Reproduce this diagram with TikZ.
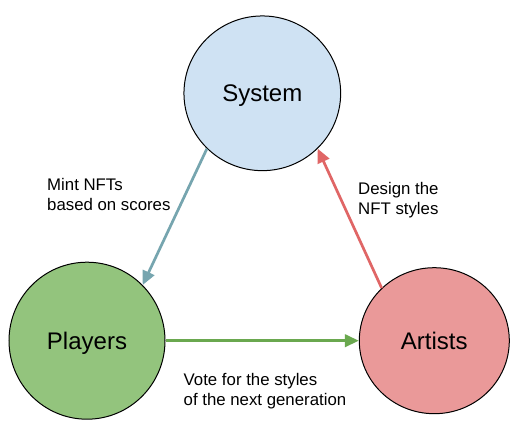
\documentclass[tikz,border=0pt]{standalone}
\usepackage{fontspec}
\setmainfont{Liberation Sans}
\usetikzlibrary{arrows.meta,shapes.geometric}
\definecolor{sysfill}{HTML}{CFE2F3}
\definecolor{plafill}{HTML}{93C47D}
\definecolor{artfill}{HTML}{EA9999}
\definecolor{bluearr}{HTML}{76A5AF}
\definecolor{redarr}{HTML}{E06666}
\definecolor{greenarr}{HTML}{6AA84F}
\tikzset{
  actor/.style={ellipse, draw=black, line width=1bp, inner sep=0pt,
    font=\fontsize{24bp}{28bp}\selectfont, text height=17.2bp, text depth=0pt},
  flow/.style={line width=2.7bp, -{Triangle[length=14bp,width=12.5bp]}},
  lbl/.style={anchor=base west, inner sep=0pt, font=\fontsize{16.8bp}{20bp}\selectfont}
}
\begin{document}
\begin{tikzpicture}[x=1bp,y=-1bp]
\fill[white] (0,0) rectangle (528,435);
\useasboundingbox (0,0) rectangle (528,435);
\node[actor, fill=sysfill, minimum width=156.7bp, minimum height=154.7bp] (sys) at (262.3,93.3) {System};
\node[actor, fill=plafill, minimum width=156bp, minimum height=157bp] (pla) at (87,340.7) {Players};
\node[actor, fill=artfill, minimum width=150bp, minimum height=146bp] (art) at (434.3,340.7) {Artists};
\draw[flow, draw=bluearr, fill=bluearr] (sys.225) -- (pla.45);
\draw[flow, draw=redarr, fill=redarr] (art.135) -- (sys.-45);
\draw[flow, draw=greenarr, fill=greenarr] (pla.east) -- (art.west);
\node[lbl] (l1) at (47,190.7) {\begin{tabular}[t]{@{}l@{}}Mint NFTs\\based on scores\end{tabular}};
\node[lbl] (l2) at (358,195) {\begin{tabular}[t]{@{}l@{}}Design the\\NFT styles\end{tabular}};
\node[lbl] (l3) at (183.5,385.7) {\begin{tabular}[t]{@{}l@{}}Vote for the styles\\of the next generation\end{tabular}};
\end{tikzpicture}
\end{document}
